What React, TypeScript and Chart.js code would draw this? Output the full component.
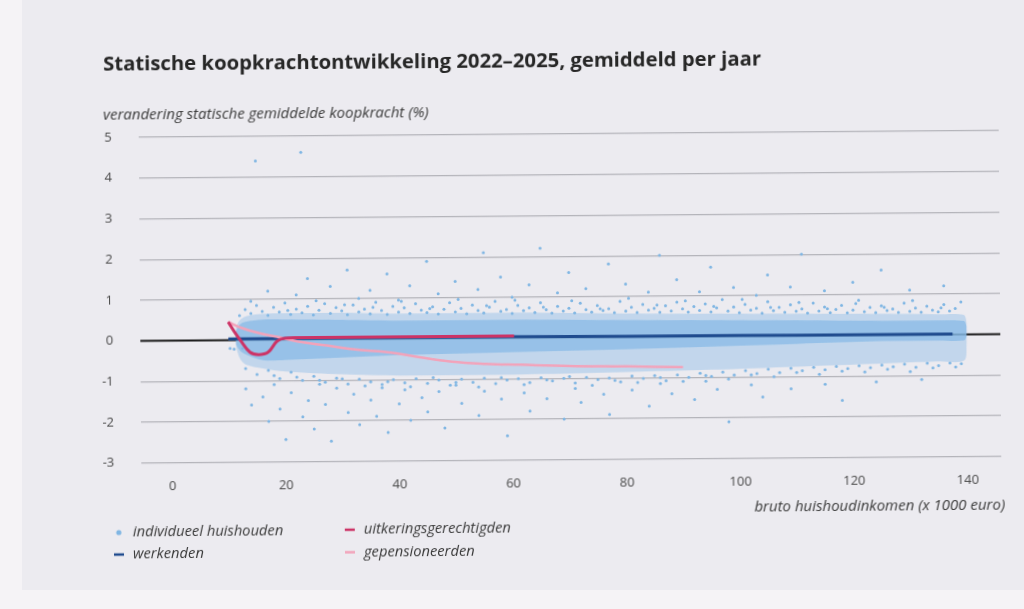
import React, { useEffect, useRef } from "react";
import { Chart, registerables } from "chart.js";
Chart.register(...registerables);

const titleText = "Statische koopkrachtontwikkeling 2022–2025, gemiddeld per jaar";
const yTitleText = "verandering statische gemiddelde koopkracht (%)";
const xTitleText = "bruto huishoudinkomen (x 1000 euro)";

const xTicks = [0, 20, 40, 60, 80, 100, 120, 140];
const yTicks = [-3, -2, -1, 0, 1, 2, 3, 4, 5];

const legendLabels = ["individueel huishouden", "werkenden", "uitkeringsgerechtigden", "gepensioneerden"];

const zeroX = [-5.5, 145.9];
const zeroY = [0, 0];

const werkX = [10, 12, 15, 20, 30, 40, 60, 80, 100, 120, 137.5];
const werkY = [0.03, 0.03, 0.03, 0.03, 0.03, 0.03, 0.03, 0.02, 0.02, 0.01, 0.01];

const uitX = [10, 11.1, 12.1, 13.8, 15.3, 17, 18.6, 20, 23, 30, 40, 50, 60.3];
const uitY = [0.45, 0.2, 0.0, -0.3, -0.36, -0.3, -0.03, 0.04, 0.05, 0.05, 0.05, 0.05, 0.05];

const penX = [10, 12.3, 15.3, 19.3, 22.3, 27.3, 32.3, 38.3, 43.3, 49.3, 55.3, 61.3, 70, 80, 90];
const penY = [0.45, 0.3, 0.17, 0.05, -0.05, -0.15, -0.25, -0.33, -0.45, -0.57, -0.63, -0.66, -0.7, -0.72, -0.75];

const bandX = [11.3, 12, 13, 16, 20, 30, 40, 60, 80, 95, 110, 125, 135, 139.5, 140];
const denseUpper = [0.2, 0.38, 0.45, 0.5, 0.5, 0.48, 0.45, 0.45, 0.42, 0.4, 0.38, 0.35, 0.35, 0.33, 0.2];
const denseLower = [-0.1, -0.25, -0.35, -0.5, -0.5, -0.45, -0.4, -0.35, -0.3, -0.25, -0.2, -0.15, -0.15, -0.15, -0.05];
const sparseUpper = [0.3, 0.48, 0.58, 0.64, 0.65, 0.65, 0.62, 0.62, 0.58, 0.56, 0.54, 0.52, 0.5, 0.48, 0.3];
const sparseLower = [-0.15, -0.45, -0.6, -0.7, -0.78, -0.86, -0.9, -0.9, -0.86, -0.82, -0.76, -0.7, -0.66, -0.64, -0.2];

const households: [number, number][] = [
  [15, 4.4], [23, 4.6], [10.3, -0.2], [11, -0.22], [12.5, -0.2],
  // upper fringe
  [12, 0.6], [13, 0.75], [14, 0.65], [15, 0.85], [16, 0.7], [17, 0.6], [18, 0.8], [19, 0.68], [20, 0.9], [21, 0.62],
  [22, 0.75], [23, 0.66], [24, 0.82], [25, 0.6], [26, 0.72], [27, 0.88], [28, 0.64], [29, 0.78], [30, 0.7], [31, 0.6],
  [32, 0.84], [33, 0.67], [34, 0.74], [35, 0.62], [36, 0.9], [37, 0.7], [38, 0.6], [39, 0.8], [40, 0.66], [41, 0.76],
  [42, 0.62], [43, 0.86], [44, 0.7], [45, 0.64], [46, 0.78], [47, 0.6], [48, 0.72], [49, 0.88], [50, 0.65], [51, 0.74],
  [52, 0.6], [53, 0.82], [54, 0.68], [55, 0.62], [56, 0.76], [57, 0.9], [58, 0.66], [59, 0.7], [60, 0.6], [61, 0.8],
  [62, 0.67], [63, 0.74], [64, 0.62], [65, 0.86], [66, 0.69], [67, 0.6], [68, 0.77], [69, 0.65], [70, 0.72], [71, 0.6],
  [72, 0.84], [73, 0.68], [74, 0.62], [75, 0.78], [76, 0.66], [77, 0.7], [78, 0.6], [79, 0.88], [80, 0.64], [81, 0.73],
  [82, 0.6], [83, 0.8], [84, 0.66], [85, 0.7], [86, 0.6], [87, 0.76], [88, 0.63], [89, 0.85], [90, 0.68], [91, 0.6],
  [92, 0.74], [93, 0.64], [94, 0.8], [95, 0.6], [96, 0.7], [97, 0.9], [98, 0.62], [99, 0.72], [100, 0.58], [101, 0.78],
  [102, 0.64], [103, 0.68], [104, 0.56], [105, 0.84], [106, 0.62], [107, 0.7], [108, 0.58], [109, 0.76], [110, 0.6],
  [111, 0.66], [112, 0.55], [113, 0.8], [114, 0.6], [115, 0.7], [116, 0.56], [117, 0.64], [118, 0.74], [119, 0.55],
  [120, 0.62], [121, 0.86], [122, 0.58], [123, 0.68], [124, 0.55], [125, 0.72], [126, 0.6], [127, 0.64], [128, 0.55],
  [129, 0.78], [130, 0.58], [131, 0.66], [132, 0.55], [133, 0.7], [134, 0.6], [135, 0.56], [136, 0.74], [137, 0.58],
  [138, 0.64], [139, 0.8],
  [20.5, 0.72], [25.5, 0.95], [30.5, 0.85], [35.5, 0.78], [40.5, 0.92], [45.5, 0.74], [50.5, 0.96], [55.5, 0.8],
  [60.5, 0.93], [65.5, 0.75], [70.5, 0.9], [75.5, 0.7], [80.5, 0.95], [85.5, 0.78], [90.5, 0.88], [95.5, 0.74],
  [100.5, 0.9], [105.5, 0.7], [110.5, 0.82], [115.5, 0.66], [120.5, 0.78], [125.5, 0.68], [130.5, 0.84], [135.5, 0.66],
  // upper outliers
  [14, 0.95], [17, 1.2], [22, 1.1], [24, 1.5], [28, 1.3], [31, 1.7], [33, 1.0], [35, 1.2], [38, 1.6], [40, 0.95],
  [42, 1.3], [45, 1.9], [47, 1.1], [50, 1.4], [54, 1.2], [55, 2.1], [58, 1.5], [60, 1.0], [63, 1.3], [65, 2.2],
  [68, 1.1], [70, 1.6], [73, 1.2], [77, 1.8], [80, 1.3], [84, 1.1], [86, 2.0], [89, 1.4], [93, 1.1], [95, 1.7],
  [99, 1.2], [103, 1.0], [105, 1.5], [109, 1.2], [111, 2.0], [115, 1.1], [120, 1.3], [125, 1.6], [130, 1.1], [136, 1.2],
  // lower fringe
  [13, -0.7], [15, -0.85], [17, -0.75], [19, -0.95], [21, -0.8], [23, -1.0], [25, -0.9], [27, -1.05], [29, -0.95],
  [31, -1.1], [33, -0.98], [35, -1.05], [37, -1.12], [39, -1.0], [41, -1.08], [43, -0.98], [45, -1.1], [47, -1.02],
  [49, -1.15], [51, -1.0], [53, -1.08], [55, -0.98], [57, -1.12], [59, -1.03], [61, -1.0], [63, -1.1], [65, -0.98],
  [67, -1.06], [69, -1.0], [71, -1.12], [73, -0.98], [75, -1.04], [77, -1.0], [79, -1.1], [81, -0.96], [83, -1.02],
  [85, -0.95], [87, -1.08], [89, -0.94], [91, -1.0], [93, -0.9], [95, -0.98], [97, -0.88], [99, -0.95], [101, -0.85],
  [103, -0.92], [105, -0.82], [107, -0.9], [109, -0.8], [111, -0.86], [113, -0.78], [115, -0.84], [117, -0.76],
  [119, -0.82], [121, -0.75], [123, -0.8], [125, -0.74], [127, -0.78], [129, -0.72], [131, -0.8], [133, -0.7],
  [135, -0.76], [137, -0.7], [139, -0.72],
  [18, -0.88], [22, -0.92], [26, -1.0], [30, -0.97], [34, -1.15], [38, -1.05], [42, -1.18], [46, -0.96], [50, -1.08],
  [54, -1.2], [58, -0.97], [62, -1.15], [66, -1.04], [70, -0.96], [74, -1.18], [78, -1.06], [82, -1.12], [86, -1.0],
  [90, -1.1], [94, -0.96], [98, -1.05], [102, -0.95], [106, -1.0], [110, -0.9], [114, -0.95], [118, -0.88],
  [122, -0.9], [126, -0.84], [130, -0.9], [134, -0.82], [138, -0.8],
  // lower outliers
  [13, -1.2], [14, -1.6], [16, -1.4], [17, -2.0], [18, -1.1], [19, -1.7], [20, -2.45], [21, -1.3], [23, -1.9],
  [24, -1.5], [25, -2.2], [26, -1.1], [27, -1.6], [28, -2.5], [29, -1.2], [31, -1.8], [32, -1.35], [33, -2.1],
  [35, -1.5], [36, -1.9], [37, -1.2], [38, -2.3], [40, -1.6], [41, -1.25], [42, -2.0], [44, -1.45], [45, -1.8],
  [47, -1.3], [48, -2.2], [50, -1.15], [51, -1.6], [54, -1.9], [55, -1.3], [58, -1.5], [59, -2.4], [62, -1.35],
  [63, -1.8], [66, -1.5], [69, -2.0], [71, -1.25], [72, -1.6], [76, -1.4], [77, -1.9], [81, -1.3], [84, -1.7],
  [86, -1.15], [88, -1.4], [92, -1.55], [94, -1.1], [96, -1.3], [98, -2.1], [102, -1.2], [104, -1.5], [109, -1.3],
  [115, -1.2], [118, -1.6], [124, -1.15], [132, -1.1]
];

const pts = (xs: number[], ys: number[]) => xs.map((x, i) => ({ x, y: ys[i] }));

const C_POINT = "#80b6e3";
const C_WERK = "#1f4b8e";
const C_UIT = "#cc3366";
const C_PEN = "#f2a3ba";

export default function App() {
  const ref = useRef<HTMLCanvasElement | null>(null);
  useEffect(() => {
    if (!ref.current) return;
    const overlay = {
      id: "overlay",
      afterDraw(chart: any) {
        const ctx = chart.ctx as CanvasRenderingContext2D;
        ctx.save();
        ctx.textBaseline = "middle";
        ctx.textAlign = "left";
        ctx.fillStyle = "#262626";
        ctx.font = 'bold 20.3px "Open Sans"';
        ctx.fillText(titleText, 105, 61);
        ctx.fillStyle = "#3c3c3c";
        ctx.font = 'italic 15px "Open Sans"';
        ctx.fillText(yTitleText, 104.5, 111.5);
        ctx.textAlign = "right";
        ctx.font = 'italic 15px "Open Sans"';
        ctx.fillText(xTitleText, 1003.5, 508.5);
        // legend
        ctx.textAlign = "left";
        ctx.font = 'italic 14.7px "Open Sans"';
        const items = [
          { label: legendLabels[0], color: C_POINT, kind: "dot", x: 116, y: 529 },
          { label: legendLabels[1], color: C_WERK, kind: "dash", x: 116, y: 551 },
          { label: legendLabels[2], color: C_UIT, kind: "dash", x: 347, y: 528 },
          { label: legendLabels[3], color: C_PEN, kind: "dash", x: 347, y: 550.5 },
        ];
        items.forEach((it) => {
          ctx.fillStyle = it.color;
          ctx.strokeStyle = it.color;
          if (it.kind === "dot") {
            ctx.beginPath();
            ctx.arc(it.x + 1, it.y, 2.6, 0, Math.PI * 2);
            ctx.fill();
          } else {
            ctx.lineWidth = 2.5;
            ctx.beginPath();
            ctx.moveTo(it.x - 4, it.y);
            ctx.lineTo(it.x + 6, it.y);
            ctx.stroke();
          }
          ctx.fillStyle = "#3a3a3a";
          ctx.fillText(it.label, it.x + 15, it.y);
        });
        ctx.restore();
      },
    };

    const bandCommon = { borderWidth: 0, pointRadius: 0, tension: 0.3, showLine: true };
    const chart = new Chart(ref.current, {
      type: "line",
      data: {
        datasets: [
          { label: "zero", data: pts(zeroX, zeroY), borderColor: "#1c1c1c", borderWidth: 2.2, pointRadius: 0, order: 9 },
          { label: "sparseLower", data: pts(bandX, sparseLower), ...bandCommon, fill: false, order: 8 },
          { label: "sparseUpper", data: pts(bandX, sparseUpper), ...bandCommon, fill: 1, backgroundColor: "rgba(135,186,230,0.42)", order: 7 },
          { label: "denseLower", data: pts(bandX, denseLower), ...bandCommon, fill: false, order: 6 },
          { label: "denseUpper", data: pts(bandX, denseUpper), ...bandCommon, fill: 3, backgroundColor: "rgba(135,186,230,0.72)", order: 5 },
          { label: legendLabels[0], data: households.map(([x, y]) => ({ x, y })), showLine: false, pointRadius: 1.5, pointBorderWidth: 0, pointBackgroundColor: C_POINT, borderColor: C_POINT, order: 4 },
          { label: legendLabels[1], data: pts(werkX, werkY), borderColor: C_WERK, borderWidth: 3, pointRadius: 0, tension: 0.4, order: 3 },
          { label: legendLabels[3], data: pts(penX, penY), borderColor: C_PEN, borderWidth: 2.5, pointRadius: 0, tension: 0.4, order: 2 },
          { label: legendLabels[2], data: pts(uitX, uitY), borderColor: C_UIT, borderWidth: 3, pointRadius: 0, tension: 0.4, order: 1 },
        ] as any,
      },
      options: {
        responsive: false,
        animation: false,
        layout: { padding: { top: 134, right: 24, bottom: 0, left: 0 } },
        plugins: { legend: { display: false }, tooltip: { enabled: false }, title: { display: false } },
        scales: {
          x: {
            type: "linear",
            min: zeroX[0],
            max: zeroX[1],
            afterFit: (s: any) => { s.height = 149.4; },
            afterBuildTicks: (s: any) => { s.ticks = xTicks.map((v) => ({ value: v })); },
            grid: { display: false, drawTicks: false },
            border: { display: false },
            ticks: { padding: 16, color: "#4a4a4a", font: { family: "Open Sans", size: 13 }, maxRotation: 0, autoSkip: false },
          },
          y: {
            type: "linear",
            min: -3,
            max: 5,
            afterFit: (s: any) => { s.width = 140; },
            afterBuildTicks: (s: any) => { s.ticks = yTicks.map((v) => ({ value: v })); },
            grid: { color: "#b4b4ba", lineWidth: 1.2, drawTicks: false },
            border: { display: false },
            ticks: { padding: 27, color: "#4a4a4a", font: { family: "Open Sans", size: 13 } },
          },
        },
      } as any,
      plugins: [overlay],
    });
    return () => chart.destroy();
  }, []);

  return (
    <div style={{ position: "fixed", left: 0, top: 0, width: 1024, height: 609, background: "#f5f3f6", overflow: "hidden" }}>
      <div style={{ position: "absolute", left: 22, top: 0, width: 1002, height: 590, background: "#ecebf0" }} />
      <canvas
        ref={ref}
        width={1024}
        height={609}
        style={{ position: "absolute", left: 0, top: 0, width: 1024, height: 609, transform: "rotate(-0.45deg)", transformOrigin: "570px 297px" }}
      />
    </div>
  );
}
